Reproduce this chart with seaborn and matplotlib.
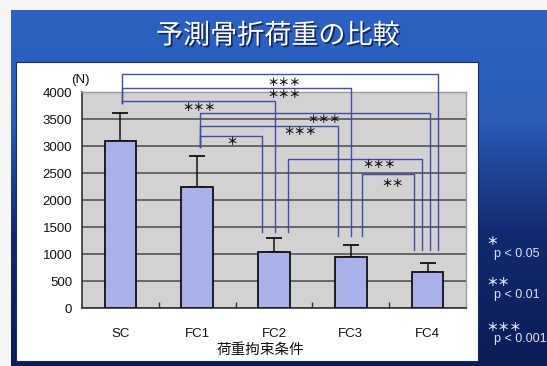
import numpy as np
import matplotlib
matplotlib.use('Agg')
import matplotlib.pyplot as plt
import matplotlib.patheffects as pe
from matplotlib.patches import Rectangle
from matplotlib.colors import to_rgb
import seaborn as sns
import pandas as pd

# ---------------- data ----------------
categories = ['SC', 'FC1', 'FC2', 'FC3', 'FC4']
mean_load = [3100, 2240, 1035, 945, 672]
sd_load = [520, 585, 260, 220, 173]
y_ticks = [0, 500, 1000, 1500, 2000, 2500, 3000, 3500, 4000]
title_text = '予測骨折荷重の比較'
x_label = '荷重拘束条件'
unit_label = '(N)'

# significance comparisons: (group a, group b, label)
comparisons = [('SC', 'FC4', '＊＊＊'), ('SC', 'FC3', '＊＊＊'), ('SC', 'FC2', '＊＊＊'),
               ('FC1', 'FC4', '＊＊＊'), ('FC1', 'FC3', '＊＊＊'), ('FC1', 'FC2', '＊'),
               ('FC2', 'FC4', '＊＊＊'), ('FC3', 'FC4', '＊＊')]
legend_marks = ['＊', '＊＊', '＊＊＊']
legend_texts = ['p < 0.05', 'p < 0.01', 'p < 0.001']

# bracket layout (data units)
bracket_y = [4333, 4074, 3839, 3622, 3381, 3196, 2761, 2478]
leg_bottom = {'SC': 3807, 'FC1': 2993, 'FC2': 1419, 'FC3': 1339, 'FC4': 1080}
leg_off = [(0.025, 0.13), (0.025, 0.0), (0.025, 0.01), (0.03, 0.03),
           (0.03, -0.17), (0.03, -0.16), (0.18, -0.07), (0.14, -0.18)]
label_pos = [(2.13, 4178), (2.13, 3950), (1.02, 3715), (2.65, 3500),
             (2.34, 3265), (1.45, 3085), (3.37, 2654), (3.54, 2302)]

W, H = 547, 366
fig = plt.figure(figsize=(W / 100, H / 100), dpi=100)
fig.patch.set_facecolor('#f3f5f7')

# ---------------- slide background ----------------
bg = fig.add_axes([0, 0, 1, 1], zorder=0)
bg.set_xlim(0, W)
bg.set_ylim(H, 0)
bg.axis('off')
stops_y = [10, 120, 170, 230, 366]
stops_c = ['#2d61c2', '#2a5bb8', '#1f4596', '#122a70', '#0b1c56']
ys = np.arange(10, 366)
cols = np.array([to_rgb(c) for c in stops_c])
grad = np.stack([np.interp(ys, stops_y, cols[:, k]) for k in range(3)], axis=-1)[:, None, :]
bg.imshow(grad, extent=(11, W, 366, 10), aspect='auto', interpolation='bilinear')
bg.add_patch(Rectangle((16, 62), 462, 299, facecolor='white', edgecolor='#1a2a60', lw=0.8))
bg.set_xlim(0, W)
bg.set_ylim(H, 0)

# title
fig.text(278 / W, 1 - 36 / H, title_text, ha='center', va='center', fontsize=19.5,
         color='white', family=['Noto Sans CJK JP', 'DejaVu Sans'],
         path_effects=[pe.withSimplePatchShadow(offset=(1.2, -1.2), shadow_rgbFace='#0d1a40', alpha=0.8)])

# ---------------- main chart ----------------
ax_l, ax_r, ax_t, ax_b = 82, 466, 92.3, 308.3
ax = fig.add_axes([ax_l / W, 1 - ax_b / H, (ax_r - ax_l) / W, (ax_b - ax_t) / H], zorder=2)

df = pd.DataFrame({'cond': categories, 'load': mean_load})
sns.barplot(data=df, x='cond', y='load', color='#a9b0ea', edgecolor='#111111',
            linewidth=1.3, width=0.41, saturation=1, ax=ax, zorder=3)
ax.errorbar(np.arange(len(categories)), mean_load, yerr=[[0] * len(sd_load), sd_load],
            fmt='none', ecolor='#111111', elinewidth=1.1, capsize=5.5, capthick=1.3, zorder=2)

ax.set_facecolor('#d2d2d2')
ax.set_xlim(-0.5, len(categories) - 0.5)
ax.set_ylim(0, 4000)
ax.set_yticks(y_ticks)
ax.yaxis.grid(True, color='#4a4a4a', lw=1.1)
ax.set_axisbelow(True)
for s in ['top', 'right']:
    ax.spines[s].set_color('#9a9a9a')
    ax.spines[s].set_linewidth(1.0)
for s in ['left', 'bottom']:
    ax.spines[s].set_color('#333333')
    ax.spines[s].set_linewidth(1.2)

tick_font = ['Liberation Sans', 'DejaVu Sans']
ax.tick_params(axis='y', length=0, pad=7, labelsize=9.5, labelcolor='#111111')
ax.tick_params(axis='x', which='major', length=0, pad=14, labelsize=9.5, labelcolor='#111111')
ax.set_xticks(np.arange(0.5, len(categories) - 0.5, 1), minor=True)
ax.tick_params(axis='x', which='minor', direction='in', length=4, color='#333333', width=1)
for lab in ax.get_xticklabels() + ax.get_yticklabels():
    lab.set_family(tick_font)
ax.set_xlabel('')
ax.set_ylabel('')

# significance brackets
pos = {c: i for i, c in enumerate(categories)}
bcol = '#3d4ea8'
for (a, b, lab), yb, (oa, ob), (lx, ly) in zip(comparisons, bracket_y, leg_off, label_pos):
    xa, xb = pos[a] + oa, pos[b] + ob
    ax.plot([xa, xa, xb, xb], [leg_bottom[a], yb, yb, leg_bottom[b]], color=bcol,
            lw=1.0, clip_on=False, zorder=4)
    ax.text(lx, ly, lab, ha='center', va='center', fontsize=8, color='#111111',
            fontweight='bold', family=['Noto Sans CJK JP', 'DejaVu Sans'],
            clip_on=False, zorder=5)

# axis labels
fig.text(80 / W, 1 - 80 / H, unit_label, ha='center', va='center', fontsize=9.5,
         color='#111111', family=tick_font, zorder=5)
fig.text(260 / W, 1 - 350 / H, x_label, ha='center', va='center', fontsize=10.5,
         color='#111111', family=['Noto Sans CJK JP', 'DejaVu Sans'], zorder=5)

# significance legend
mark_y = [241, 282, 327]
text_y = [254, 295, 339]
for m, t, my, ty in zip(legend_marks, legend_texts, mark_y, text_y):
    fig.text(486 / W, 1 - my / H, m, ha='left', va='center', fontsize=8.5,
             color='#dce4f4', fontweight='bold', family=['Noto Sans CJK JP', 'DejaVu Sans'])
    fig.text(494 / W, 1 - ty / H, t, ha='left', va='center', fontsize=9,
             color='#dce4f4', family=tick_font)

fig.savefig('out.png', dpi=100, facecolor=fig.get_facecolor())
